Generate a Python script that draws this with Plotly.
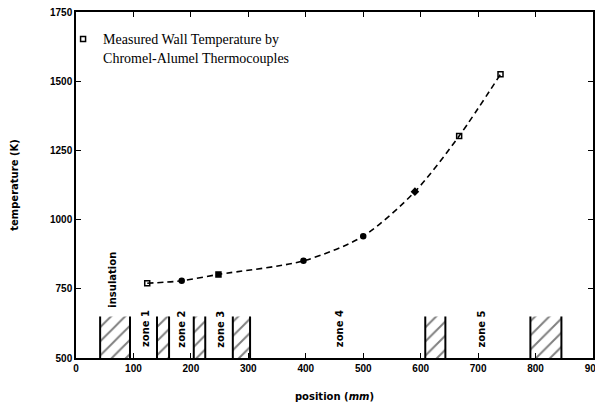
import plotly.graph_objects as go

# data
pos_mm = [124, 184, 248, 396, 500, 590, 667, 739]
temp_K = [770, 779, 802, 851, 940, 1101, 1302, 1525]
symbols = ["square-open", "circle", "square", "circle", "circle", "diamond", "square-open", "square-open"]

hatch_start = [42, 141, 205, 273, 608, 791]
hatch_end = [94, 162, 225, 303, 643, 845]
hatch_top = 650
y_base = 500

zone_labels = ["zone 1", "zone 2", "zone 3", "zone 4", "zone 5"]
zone_x = [122, 184, 252, 460, 706]
zone_y = 605
insul_x = 64
insul_y = 782

x_ticks = [0, 100, 200, 300, 400, 500, 600, 700, 800, 900]
y_ticks = [500, 750, 1000, 1250, 1500, 1750]

fig = go.Figure()

# hatched blocks
fig.add_trace(go.Bar(
    x=[(s + e) / 2 for s, e in zip(hatch_start, hatch_end)],
    width=[e - s for s, e in zip(hatch_start, hatch_end)],
    y=[hatch_top - y_base] * len(hatch_start),
    base=[y_base] * len(hatch_start),
    marker=dict(color="white", line=dict(width=0),
                pattern=dict(shape="/", fgcolor="black", bgcolor="white", size=10, solidity=0.2)),
    showlegend=False, hoverinfo="skip",
))
# vertical edges of blocks
ex, ey = [], []
for s, e in zip(hatch_start, hatch_end):
    ex += [s, s, None, e, e, None]
    ey += [y_base, hatch_top, None, y_base, hatch_top, None]
fig.add_trace(go.Scatter(x=ex, y=ey, mode="lines", line=dict(color="black", width=2),
                         showlegend=False, hoverinfo="skip"))

# dashed curve
fig.add_trace(go.Scatter(x=pos_mm, y=temp_K, mode="lines",
                         line=dict(color="black", width=1.6, dash="6px,4px", shape="spline", smoothing=0.8),
                         showlegend=False))
# markers
fig.add_trace(go.Scatter(x=pos_mm, y=temp_K, mode="markers",
                         marker=dict(symbol=symbols, size=5, color="black", line=dict(color="black", width=1.5)),
                         name="Measured Wall Temperature by<br>Chromel-Alumel Thermocouples"))

for lab, zx in zip(zone_labels, zone_x):
    fig.add_annotation(x=zx, y=zone_y, text=lab, textangle=-90, showarrow=False,
                       font=dict(family="DejaVu Sans", size=10, color="black", weight="bold"))
fig.add_annotation(x=insul_x, y=insul_y, text="insulation", textangle=-90, showarrow=False,
                   font=dict(family="DejaVu Sans", size=10, color="black", weight="bold"))

axis_common = dict(showgrid=False, zeroline=False, showline=True, linecolor="black", linewidth=1.5,
                   mirror="ticks", ticks="inside", ticklen=5, tickcolor="black",
                   ticklabeloverflow="allow", automargin=False,
                   tickfont=dict(family="Liberation Sans", size=10, color="black", weight="bold"))

# page body has an 8px margin, so the figure is 8px smaller and margins compensate
fig.update_layout(
    width=595, height=394,
    margin=dict(l=68, r=10, t=4, b=44),
    plot_bgcolor="white", paper_bgcolor="white",
    barmode="overlay",
    xaxis=dict(range=[0, 900], tickvals=x_ticks,
               title=dict(text="position (<i>mm</i>)", standoff=20,
                          font=dict(family="DejaVu Sans", size=10, color="black", weight="bold")),
               **axis_common),
    yaxis=dict(range=[500, 1750], tickvals=y_ticks,
               title=dict(text="temperature (K)", standoff=30,
                          font=dict(family="DejaVu Sans", size=10, color="black", weight="bold")),
               **axis_common),
    legend=dict(x=-0.025, y=0.967, xanchor="left", yanchor="top", bgcolor="rgba(0,0,0,0)",
                font=dict(family="Liberation Serif", size=14, color="black"), valign="top"),
    showlegend=True,
)

fig.write_html("out.html")
